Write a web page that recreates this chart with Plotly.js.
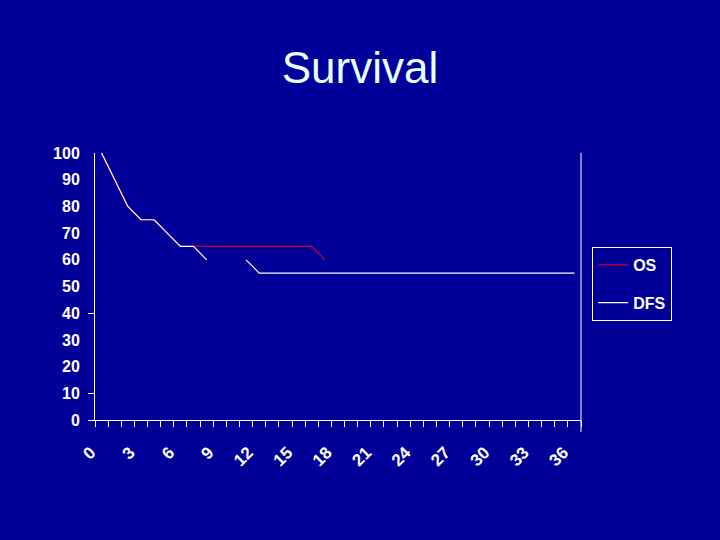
<!DOCTYPE html>
<html>
<head>
<meta charset="utf-8">
<script src="https://cdn.plot.ly/plotly-3.0.1.min.js"></script>
<style>
  html, body { margin: 0; padding: 0; background: #000099; }
  #chart { width: 720px; height: 540px; }
</style>
</head>
<body>
<div id="chart"></div>
<script>
// Months 0..36
var months = [];
for (var m = 0; m <= 36; m++) months.push(m);

// Overall survival (%)
var osValues = [100, 90, 80, 75, 75, 70, 65, 65, 65, 65, 65, 65, 65, 65, 65, 65, 65, 60,
  null, null, null, null, null, null, null, null, null, null, null, null, null, null, null, null, null, null, null];

// Disease-free survival (%)
var dfsValues = [100, 90, 80, 75, 75, 70, 65, 65, 60, null, null, 60, 55,
  55, 55, 55, 55, 55, 55, 55, 55, 55, 55, 55, 55, 55, 55, 55, 55, 55, 55, 55, 55, 55, 55, 55, 55];

var xTickVals = [0, 3, 6, 9, 12, 15, 18, 21, 24, 27, 30, 33, 36];
var xTickText = ['0', '3', '6', '9', '12', '15', '18', '21', '24', '27', '30', '33', '36'];
var yTickVals = [0, 10, 20, 30, 40, 50, 60, 70, 80, 90, 100];

var bg = '#000099';
var lblFont = {family: 'Arial, Liberation Sans, sans-serif', size: 16, color: '#ffffff', weight: 'bold'};
var xFont = {family: 'Arial, Liberation Sans, sans-serif', size: 17, color: '#ffffff', weight: 'bold'};

var traces = [
  {x: months, y: osValues, name: 'OS', type: 'scatter', mode: 'lines',
   line: {color: '#cc0033', width: 1.2}, connectgaps: false, legendgroup: 'a', hoverinfo: 'skip'},
  {x: months, y: dfsValues, name: 'DFS', type: 'scatter', mode: 'lines',
   line: {color: '#ffffff', width: 1.2}, connectgaps: false, legendgroup: 'b', hoverinfo: 'skip'}
];

var layout = {
  width: 720, height: 540,
  paper_bgcolor: bg, plot_bgcolor: bg,
  margin: {l: 95, r: 139, t: 153, b: 120},
  title: {text: 'Survival', font: {family: 'Arial, Liberation Sans, sans-serif', size: 44, color: '#e6ffff'},
          x: 0.5, xref: 'container', xanchor: 'center', y: 1 - 68/540, yref: 'container', yanchor: 'middle'},
  showlegend: true,
  legend: {x: 1.023, xanchor: 'left', y: 0.648, yanchor: 'top', bgcolor: bg,
           bordercolor: '#ffffff', borderwidth: 1, font: lblFont,
           tracegroupgap: 14, itemwidth: 30},
  xaxis: {type: 'linear', range: [-0.5, 36.5], tickmode: 'array', tickvals: xTickVals, ticktext: xTickText,
          tickangle: -45, ticks: 'outside', ticklen: 0, tickcolor: '#ffffff', tickfont: xFont,
          showgrid: false, zeroline: false, showline: true, linecolor: '#ffffff', linewidth: 1,
          ticklabelshift: -11, ticklabelstandoff: 15,
          minor: {tickmode: 'linear', tick0: -0.5, dtick: 1, ticks: 'outside', ticklen: 6, tickcolor: '#ffffff', showgrid: false}},
  yaxis: {range: [0, 100], tickmode: 'array', tickvals: yTickVals, ticks: 'outside', ticklen: 0,
          tickcolor: '#ffffff', tickfont: lblFont, showgrid: false, zeroline: false,
          showline: true, linecolor: '#ffffff', linewidth: 1, ticklabelstandoff: 11,
          minor: {tickmode: 'array', tickvals: [0, 10, 40], ticks: 'outside', ticklen: 6, tickcolor: '#ffffff', showgrid: false}},
  shapes: [
    {type: 'line', xref: 'paper', yref: 'paper', x0: 1, x1: 1, y0: -0.045, y1: 1,
     line: {color: '#ffffff', width: 1}}
  ]
};

Plotly.newPlot('chart', traces, layout, {displayModeBar: false, staticPlot: true});
</script>
</body>
</html>
